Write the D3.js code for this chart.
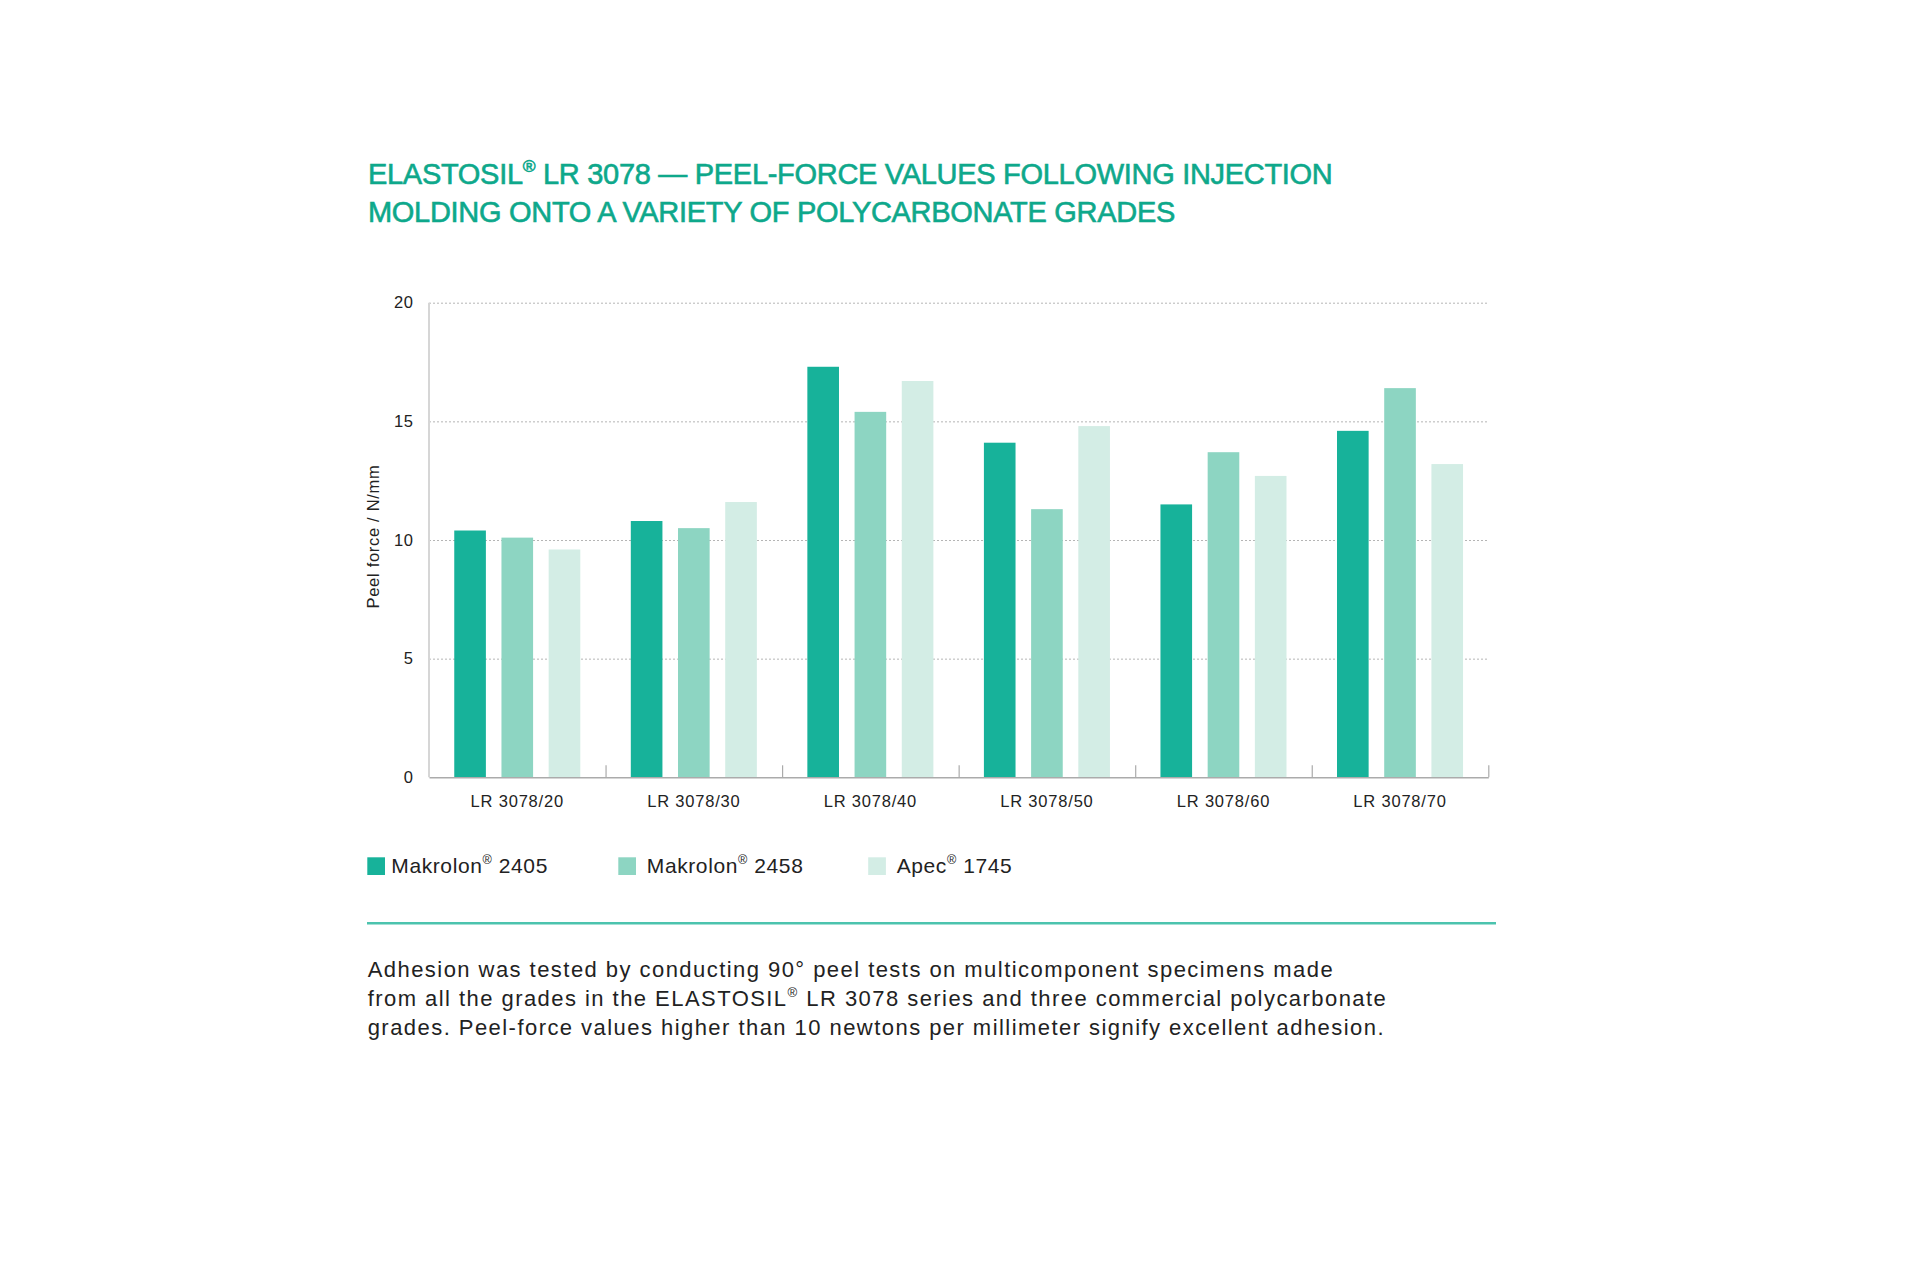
<!DOCTYPE html>
<html>
<head>
<meta charset="utf-8">
<script src="https://cdn.jsdelivr.net/npm/d3@7"></script>
<style>
  body { margin: 0; background: #fff; }
  text { font-family: "Liberation Sans", Arial, sans-serif; }
</style>
</head>
<body>
<div id="chart"></div>
<script>
// Chart data.
const categories = ["LR 3078/20", "LR 3078/30", "LR 3078/40", "LR 3078/50", "LR 3078/60", "LR 3078/70"];
const seriesNames = ["Makrolon® 2405", "Makrolon® 2458", "Apec® 1745"];
const makrolon2405 = [10.4, 10.8, 17.3, 14.1, 11.5, 14.6];
const makrolon2458 = [10.1, 10.5, 15.4, 11.3, 13.7, 16.4];
const apec1745 = [9.6, 11.6, 16.7, 14.8, 12.7, 13.2];
const yTicks = [0, 5, 10, 15, 20];

const titleLines = [
  "ELASTOSIL® LR 3078 — PEEL-FORCE VALUES FOLLOWING INJECTION",
  "MOLDING ONTO A VARIETY OF POLYCARBONATE GRADES"
];
const noteLines = [
  "Adhesion was tested by conducting 90° peel tests on multicomponent specimens made",
  "from all the grades in the ELASTOSIL® LR 3078 series and three commercial polycarbonate",
  "grades. Peel-force values higher than 10 newtons per millimeter signify excellent adhesion."
];

const colors = ["#17b29a", "#8dd5c2", "#d3ede5"];

// Set the chart size and margins.
const width = 1920;
const height = 1280;
const margin = { top: 302.7, right: 431.7, bottom: 502.7, left: 429 };

const svg = d3.select("#chart")
  .append("svg")
  .attr("width", width)
  .attr("height", height);

// Write a string, shrinking and raising every "®".
function addText(sel, str, fs) {
  const shift = fs * 0.42;
  str.split("®").forEach(function(part, i) {
    if (i > 0) {
      sel.append("tspan").attr("font-size", fs * 0.6).attr("dy", -shift).text("®");
      sel.append("tspan").attr("dy", shift).text(part);
    } else {
      sel.append("tspan").text(part);
    }
  });
}

// Title (a thin stroke gives it the medium weight of the original).
titleLines.forEach(function(line, i) {
  const t = svg.append("text")
    .attr("x", 368)
    .attr("y", 184 + i * 37.7)
    .attr("fill", "#0ea88b")
    .attr("stroke", "#0ea88b")
    .attr("stroke-width", 0.6)
    .attr("font-size", 29)
    .attr("letter-spacing", -0.3);
  addText(t, line, 29);
});

// Build rows for the grouped bars.
const data = categories.map(function(c, i) {
  return { category: c, values: [makrolon2405[i], makrolon2458[i], apec1745[i]] };
});

// Scales.
const x0 = d3.scaleBand()
  .domain(categories)
  .range([margin.left, width - margin.right])
  .padding(0);

const x1 = d3.scaleBand()
  .domain(seriesNames)
  .range([0, x0.bandwidth()])
  .paddingInner(0.33)
  .paddingOuter(0.535);

const y = d3.scaleLinear()
  .domain([0, 20])
  .range([height - margin.bottom, margin.top]);

// Dotted gridlines.
svg.append("g")
  .attr("transform", "translate(" + margin.left + ",0)")
  .call(d3.axisLeft(y).tickValues(yTicks.slice(1)).tickSize(-(width - margin.left - margin.right)).tickFormat(""))
  .call(function(g) { g.select(".domain").remove(); })
  .selectAll("line")
  .attr("stroke", "#b5b5b5")
  .attr("stroke-width", 1)
  .attr("stroke-dasharray", "2,2");

// Y-axis line and labels.
svg.append("line")
  .attr("x1", margin.left).attr("x2", margin.left)
  .attr("y1", y(20)).attr("y2", y(0))
  .attr("stroke", "#d6d6d6")
  .attr("stroke-width", 2);

svg.append("g")
  .attr("transform", "translate(" + margin.left + ",0)")
  .call(d3.axisLeft(y).tickValues(yTicks).tickSize(0).tickPadding(15.5))
  .call(function(g) { g.select(".domain").remove(); })
  .selectAll("text")
  .attr("font-family", "Liberation Sans, Arial, sans-serif")
  .attr("font-size", 16.5)
  .attr("letter-spacing", 0.6)
  .attr("fill", "#222");

// Y-axis label.
svg.append("text")
  .attr("transform", "translate(379," + ((y(0) + y(20)) / 2 - 3.5) + ") rotate(-90)")
  .attr("text-anchor", "middle")
  .attr("font-size", 16.5)
  .attr("letter-spacing", 0.7)
  .attr("fill", "#222")
  .text("Peel force / N/mm");

// Bars.
const groups = svg.selectAll("g.group")
  .data(data)
  .enter()
  .append("g")
  .attr("class", "group")
  .attr("transform", function(d) { return "translate(" + x0(d.category) + ",0)"; });

groups.selectAll("rect")
  .data(function(d) { return d.values.map(function(v, i) { return { key: seriesNames[i], value: v, i: i }; }); })
  .enter()
  .append("rect")
  .attr("x", function(d) { return x1(d.key); })
  .attr("y", function(d) { return y(d.value); })
  .attr("width", x1.bandwidth())
  .attr("height", function(d) { return y(0) - y(d.value); })
  .attr("fill", function(d) { return colors[d.i]; });

// X-axis line with ticks at the group boundaries.
const xb = d3.scaleLinear()
  .domain([0, categories.length])
  .range([margin.left, width - margin.right]);

svg.append("g")
  .attr("transform", "translate(0," + y(0) + ")")
  .call(d3.axisTop(xb).tickValues(d3.range(1, categories.length + 1)).tickSize(12).tickSizeOuter(0).tickFormat(""))
  .call(function(g) {
    g.select(".domain").attr("stroke", "#ababab").attr("stroke-width", 1.5);
    g.selectAll("line").attr("stroke", "#ababab").attr("stroke-width", 1.2);
  });

// Category labels.
svg.append("g")
  .attr("transform", "translate(0," + y(0) + ")")
  .call(d3.axisBottom(x0).tickSize(0).tickPadding(17.5))
  .call(function(g) { g.select(".domain").remove(); })
  .selectAll("text")
  .attr("font-family", "Liberation Sans, Arial, sans-serif")
  .attr("font-size", 16.5)
  .attr("letter-spacing", 0.8)
  .attr("fill", "#222");

// Legend.
const legendX = [367.3, 618.3, 868.2];
seriesNames.forEach(function(name, i) {
  svg.append("rect")
    .attr("x", legendX[i])
    .attr("y", 857.3)
    .attr("width", 17.7)
    .attr("height", 17.7)
    .attr("fill", colors[i]);
  const t = svg.append("text")
    .attr("x", legendX[i] + 24 + (i > 0 ? 4.5 : 0))
    .attr("y", 873.3)
    .attr("font-size", 21)
    .attr("letter-spacing", 0.6)
    .attr("fill", "#222");
  addText(t, name, 21);
});

// Divider.
svg.append("line")
  .attr("x1", 367).attr("x2", 1496)
  .attr("y1", 923.3).attr("y2", 923.3)
  .attr("stroke", "#4cc3ae")
  .attr("stroke-width", 2.5);

// Note below the chart.
noteLines.forEach(function(line, i) {
  const t = svg.append("text")
    .attr("x", 367.7)
    .attr("y", 976.7 + i * 29.3)
    .attr("font-size", 22)
    .attr("letter-spacing", 1.45)
    .attr("fill", "#222");
  addText(t, line, 22);
});
</script>
</body>
</html>
